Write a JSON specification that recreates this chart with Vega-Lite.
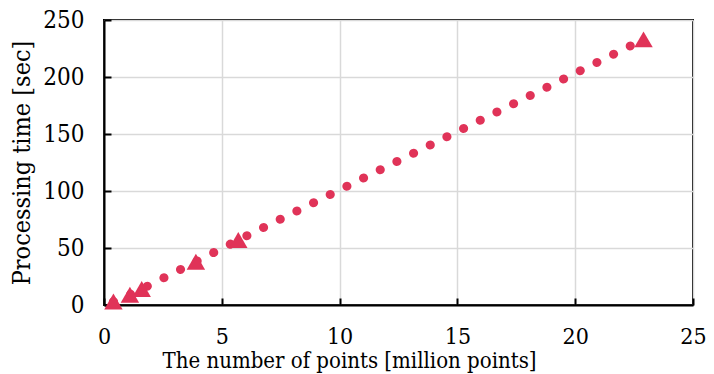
{
  "$schema": "https://vega.github.io/schema/vega-lite/v6.json",
  "width": 589,
  "height": 285,
  "autosize": "none",
  "padding": {"left": 104, "top": 20, "right": 21, "bottom": 69},
  "background": "white",
  "config": {
    "font": "DejaVu Serif Condensed",
    "view": {"stroke": "black", "strokeWidth": 2},
    "axis": {
      "labelFont": "DejaVu Serif Condensed",
      "titleFont": "DejaVu Serif Condensed",
      "labelFontSize": 24,
      "titleFontSize": 22,
      "labelColor": "black",
      "titleColor": "black",
      "titleFontWeight": "normal",
      "labelFlush": false,
      "domainColor": "black",
      "domainWidth": 2,
      "tickColor": "black",
      "tickWidth": 2,
      "tickSize": -7,
      "gridColor": "#d9d9d9",
      "gridWidth": 1.5
    }
  },
  "data": {
    "values": [
      {"x": 0.4, "y": 3},
      {"x": 1.1, "y": 9},
      {"x": 1.6, "y": 14},
      {"x": 3.9, "y": 38},
      {"x": 5.7, "y": 57},
      {"x": 22.9, "y": 233}
    ]
  },
  "encoding": {
    "x": {
      "field": "x", "type": "quantitative",
      "scale": {"domain": [0, 25], "nice": false},
      "axis": {"values": [0, 5, 10, 15, 20, 25], "title": "The number of points [million points]", "labelFontSize": 23, "labelPadding": 27, "titlePadding": 2, "titleX": 245}
    },
    "y": {
      "field": "y", "type": "quantitative",
      "scale": {"domain": [0, 250], "nice": false},
      "axis": {"values": [0, 50, 100, 150, 200, 250], "title": "Processing time [sec]", "titleFontSize": 25, "labelPadding": 27, "titlePadding": 8}
    }
  },
  "layer": [
    {
      "mark": {"type": "line", "color": "#e03358", "strokeWidth": 9, "strokeCap": "round", "strokeDash": [0.1, 18.5]}
    },
    {
      "mark": {"type": "point", "shape": "triangle-up", "filled": true, "color": "#e03358", "opacity": 1, "size": 340}
    }
  ]
}
